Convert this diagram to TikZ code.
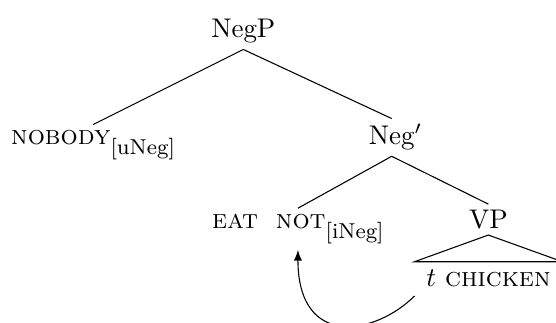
\documentclass[tikz,border=0pt]{standalone}
\usepackage{amsmath}
\usepackage{tikz}
\usetikzlibrary{calc}

\begin{document}
\begin{tikzpicture}

        % Style for tree labels
        \tikzset{tnode/.style={inner sep=2pt, anchor=base}}
        \tikzset{edge/.style={line width=0.4pt}}

        \useasboundingbox (0,0) rectangle (7.239,4.205);

        % =================================================================
        % 1. TOP OF THE TREE
        % =================================================================

        % Define Coordinates
        \coordinate (P0) at (3.168, 3.711);
        \coordinate (P1) at (0.069, 2.320);
        \coordinate (P2) at (5.100, 2.320);

        \node[tnode] (negp) at (P0) {NegP};
        \node[tnode, anchor=base west] (nobody) at (P1) {\textsc{nobody}\raisebox{-3.7pt}{\footnotesize[uNeg]}};
        \node[tnode] (negbar) at (P2) {Neg\rlap{$'$}};

        \draw[edge] (negp.south) -- (nobody.north);
        \draw[edge] (negp.south) -- (negbar.north);

        % =================================================================
        % 2. LOWER PART - head and VP with roof
        % =================================================================

        \coordinate (Q1) at (2.686, 1.230);
        \coordinate (Q2) at (6.358, 1.230);
        \coordinate (Q3) at (6.360, 0.469);

        \node[tnode, anchor=base west] (eatnot) at (Q1) {\textsc{eat}\ \ \textsc{not}\raisebox{-3.7pt}{\footnotesize[iNeg]}};
        \node[tnode] (vp) at (Q2) {VP};
        \node[tnode, inner xsep=4.2pt, inner ysep=3pt] (leaf) at (Q3) {$t$ \textsc{chicken}};

        \draw[edge] (negbar.south) -- (eatnot.north);
        \draw[edge] (negbar.south) -- (vp.north);
        % Roof over the VP
        \draw[edge] (vp.south) -- (leaf.north west) -- (leaf.north east) -- cycle;

        % Movement arrow
        \draw[edge, ->, >=latex] (leaf.south west) .. controls +(225:0.716) and +(270:1.302) .. (eatnot.south);

\end{tikzpicture}
\end{document}
